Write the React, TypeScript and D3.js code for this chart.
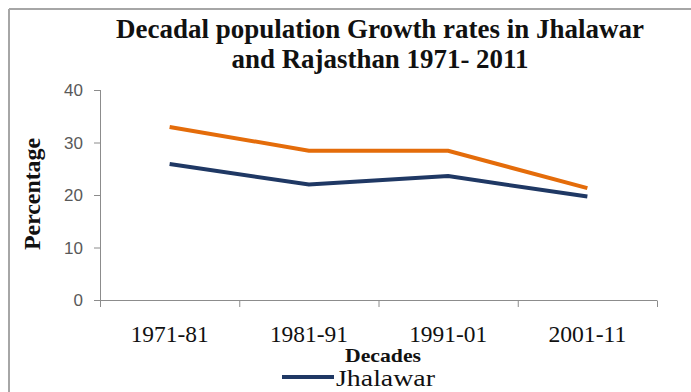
import React from "react";
import * as d3 from "d3";

const categories = ["1971-81", "1981-91", "1991-01", "2001-11"];
const rajasthan = [32.97, 28.44, 28.41, 21.31];
const jhalawar = [25.9, 22.0, 23.6, 19.7];
const yTicks = [0, 10, 20, 30, 40];

const W = 691;
const H = 392;

export default function App() {
  const x = d3.scaleBand<string>().domain(categories).range([100, 657]);
  const y = d3.scaleLinear().domain([0, 40]).range([300, 90]);
  const line = d3
    .line<number>()
    .x((_, i) => (x(categories[i]) as number) + x.bandwidth() / 2)
    .y((d) => y(d));
  const serif = "'Liberation Serif', 'Times New Roman', serif";
  const sans = "'Liberation Sans', Arial, sans-serif";
  const boundaries = [...categories.map((c) => x(c) as number), 657];

  return (
    <svg
      width={W}
      height={H}
      style={{ position: "absolute", left: 0, top: 0, background: "#fff" }}
    >
      <rect x={0} y={0} width={W} height={H} fill="#fff" />
      {/* outer border */}
      <line x1={9} y1={9} x2={W} y2={9} stroke="#a6a6a6" strokeWidth={2} />
      <line x1={9} y1={9} x2={9} y2={H} stroke="#a6a6a6" strokeWidth={2} />

      {/* title */}
      <text
        x={380}
        y={38}
        textAnchor="middle"
        fontFamily={serif}
        fontWeight="bold"
        fontSize={27}
        fill="#111"
        textLength={528}
        lengthAdjust="spacingAndGlyphs"
      >
        Decadal population Growth rates in Jhalawar
      </text>
      <text
        x={380}
        y={68}
        textAnchor="middle"
        fontFamily={serif}
        fontWeight="bold"
        fontSize={27}
        fill="#111"
        textLength={297}
        lengthAdjust="spacingAndGlyphs"
      >
        and Rajasthan 1971- 2011
      </text>

      {/* y axis */}
      <line x1={100.5} y1={90} x2={100.5} y2={300} stroke="#8c8c8c" strokeWidth={1} />
      {yTicks.map((t) => (
        <g key={t}>
          <line x1={94} x2={100.5} y1={y(t) + 0.5} y2={y(t) + 0.5} stroke="#8c8c8c" />
          <text
            x={83}
            y={y(t) + 6}
            textAnchor="end"
            fontFamily={sans}
            fontSize={17}
            fill="#595959"
          >
            {t}
          </text>
        </g>
      ))}

      {/* x axis */}
      <line x1={94} y1={300.5} x2={657} y2={300.5} stroke="#8c8c8c" strokeWidth={1} />
      {boundaries.map((b, i) => (
        <line key={i} x1={b + 0.5} x2={b + 0.5} y1={300.5} y2={307} stroke="#8c8c8c" />
      ))}
      {categories.map((c) => (
        <text
          key={c}
          x={(x(c) as number) + x.bandwidth() / 2}
          y={342}
          textAnchor="middle"
          fontFamily={serif}
          fontSize={23}
          fill="#111"
          textLength={78}
          lengthAdjust="spacingAndGlyphs"
        >
          {c}
        </text>
      ))}

      {/* axis titles */}
      <text
        transform="translate(40,194) rotate(-90)"
        textAnchor="middle"
        fontFamily={serif}
        fontWeight="bold"
        fontSize={24}
        fill="#111"
        textLength={112}
        lengthAdjust="spacingAndGlyphs"
      >
        Percentage
      </text>
      <text
        x={383}
        y={362}
        textAnchor="middle"
        fontFamily={serif}
        fontWeight="bold"
        fontSize={19}
        fill="#111"
        textLength={76}
        lengthAdjust="spacingAndGlyphs"
      >
        Decades
      </text>

      {/* series */}
      <path d={line(rajasthan) || ""} fill="none" stroke="#e46c0a" strokeWidth={4} />
      <path d={line(jhalawar) || ""} fill="none" stroke="#1f3864" strokeWidth={4} />

      {/* legend */}
      <line x1={282} x2={334} y1={377} y2={377} stroke="#1f3864" strokeWidth={4} />
      <text
        x={336}
        y={386}
        fontFamily={serif}
        fontSize={24}
        fill="#111"
        textLength={99}
        lengthAdjust="spacingAndGlyphs"
      >
        Jhalawar
      </text>
    </svg>
  );
}
